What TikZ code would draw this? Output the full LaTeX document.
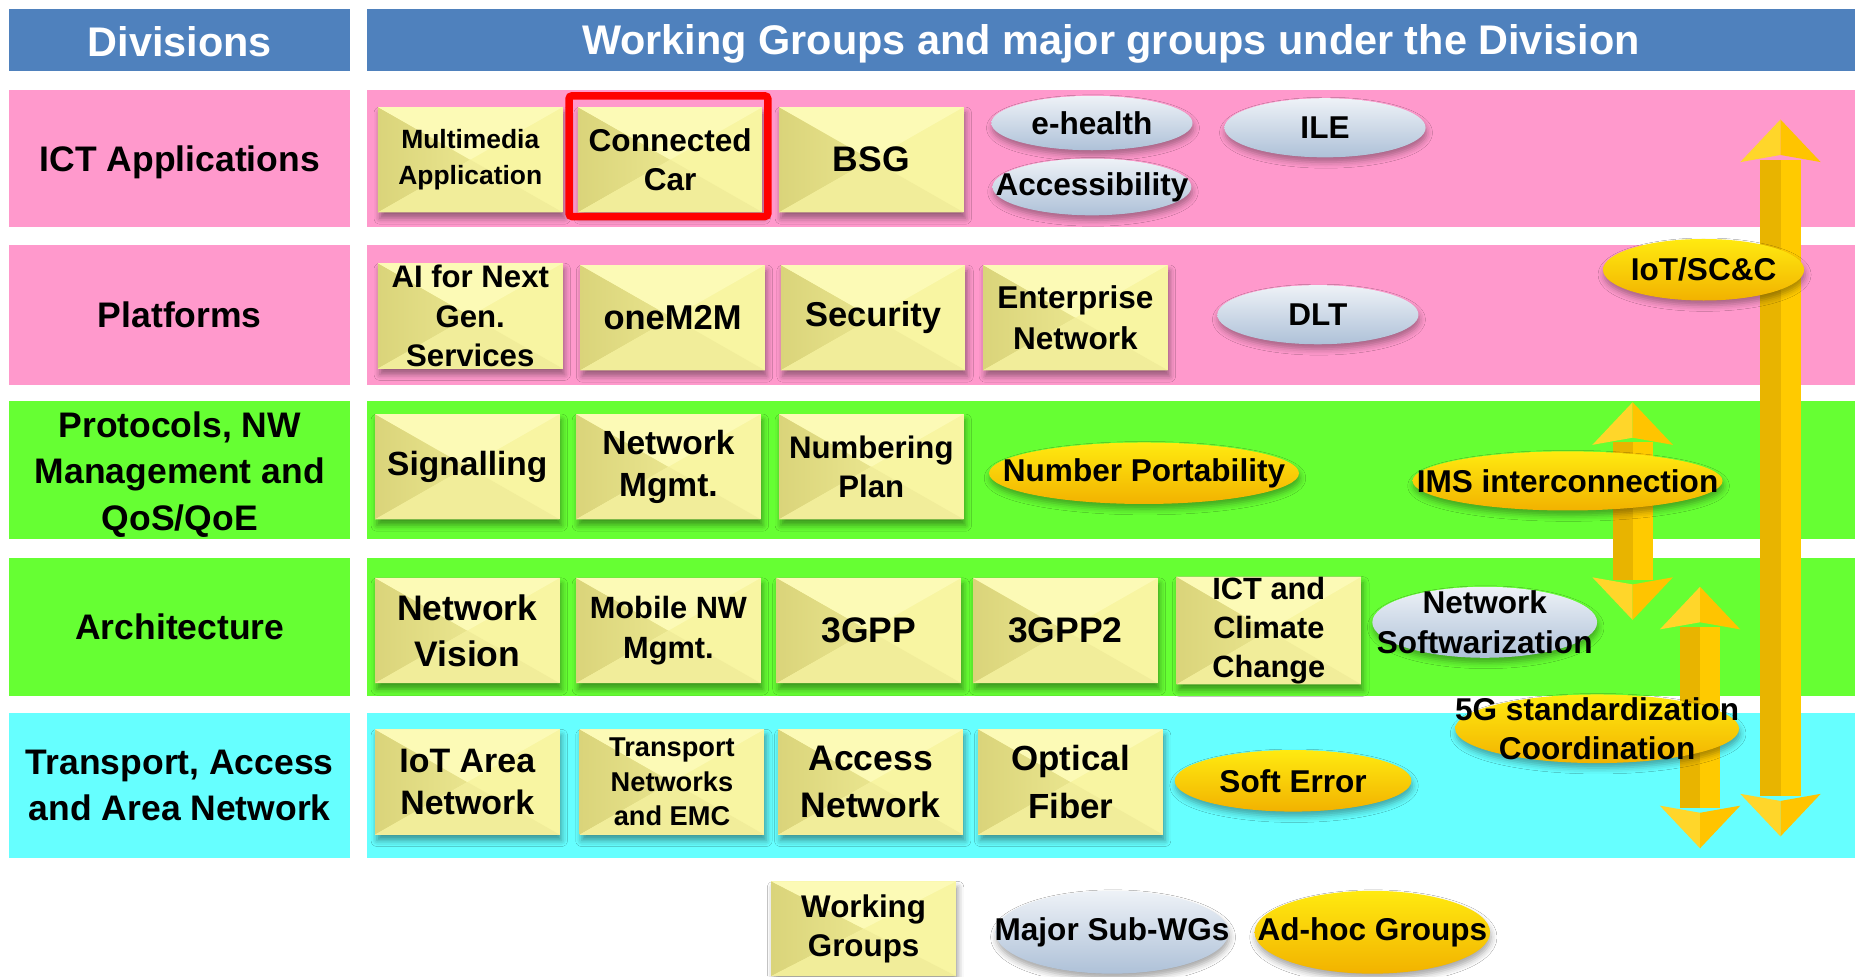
\documentclass[tikz,border=0pt]{standalone}
\usepackage{fontspec}
\setmainfont{Liberation Sans}
\usetikzlibrary{shadows.blur}
\definecolor{hdrblue}{HTML}{4F81BD}
\definecolor{rowpink}{HTML}{FF99CC}
\definecolor{rowgreen}{HTML}{66FF33}
\definecolor{rowcyan}{HTML}{66FFFF}
\definecolor{boxyel}{HTML}{F8F5A2}
\definecolor{boxdark}{HTML}{DAD47A}
\definecolor{boxlight}{HTML}{FCFAB6}
\definecolor{boxmid}{HTML}{F1ED9A}
\definecolor{goldL}{HTML}{E8B400}
\definecolor{goldR}{HTML}{FFCA00}
\definecolor{goldHL}{HTML}{FFD62A}
\definecolor{goldHR}{HTML}{FFC400}
\definecolor{ovtop}{HTML}{EEF2F7}
\definecolor{ovmid}{HTML}{C8D4E3}
\definecolor{ovbot}{HTML}{AEC1D8}
\definecolor{yltop}{HTML}{FFEA10}
\definecolor{ylmid}{HTML}{FFCC00}
\definecolor{ylbot}{HTML}{F2B200}
\newcommand\fsz[2]{\fontsize{#1}{#2}\selectfont\bfseries}
\newcommand\goldarrow[3]{%
  \fill[goldL] ({#1-17},{#2+34}) rectangle (#1,{#3-34});
  \fill[goldR] (#1,{#2+34}) rectangle ({#1+17},{#3-34});
  \fill[goldHL] (#1,#2) -- ({#1-34},{#2+36}) -- (#1,{#2+30}) -- cycle;
  \fill[goldHR] (#1,#2) -- ({#1+34},{#2+36}) -- (#1,{#2+30}) -- cycle;
  \fill[goldHL] (#1,#3) -- ({#1-34},{#3-36}) -- (#1,{#3-30}) -- cycle;
  \fill[goldHR] (#1,#3) -- ({#1+34},{#3-36}) -- (#1,{#3-30}) -- cycle;
}
\newcommand\ovalnode[7]{%
  \coordinate (#1-c) at (#2,#3);
  \shade[#6] (#1-c) ellipse [x radius={#4*0.6pt}, y radius={#5*0.6pt}];
  \node[ovtext] (#1) at (#1-c) {#7};
}
\tikzset{
  hdr/.style={text=white, font=\fsz{21}{25}, inner sep=0pt},
  rowlab/.style={text=black, font=\fsz{18}{23.5}, align=center, inner sep=0pt},
  wg/.style={rectangle, fill=boxyel, minimum width=93.6pt, minimum height=53.4pt,
    inner sep=0pt, align=center, font=\fsz{16}{20},
    blur shadow={shadow xshift=1pt, shadow yshift=-3pt, shadow opacity=40, shadow blur radius=3pt},
    path picture={
      \shade[left color=boxdark, right color=boxyel] (path picture bounding box.north west) -- (path picture bounding box.center) -- (path picture bounding box.south west) -- cycle;
      \fill[boxlight] (path picture bounding box.north west) -- (path picture bounding box.center) -- (path picture bounding box.north east) -- cycle;
      \fill[boxmid] (path picture bounding box.south west) -- (path picture bounding box.center) -- (path picture bounding box.south east) -- cycle;
    }},
  blueov/.style={top color=ovtop, middle color=ovmid, bottom color=ovbot,
    blur shadow={shadow xshift=0.5pt, shadow yshift=-2.5pt, shadow opacity=35, shadow blur radius=3pt}},
  yelov/.style={top color=yltop, middle color=ylmid, bottom color=ylbot,
    blur shadow={shadow xshift=0.5pt, shadow yshift=-2.5pt, shadow opacity=35, shadow blur radius=3pt}},
  ovtext/.style={font=\fsz{16}{20}, align=center, inner sep=0pt, text=black}
}
\begin{document}
\begin{tikzpicture}[x=0.6pt,y=-0.6pt]
\useasboundingbox (0,0) rectangle (1568,825);
\fill[white] (0,0) rectangle (1568,825);
% header
\fill[hdrblue] (8,8) rectangle (296,60);
\fill[hdrblue] (310,8) rectangle (1568,60);
\node[hdr] (hdiv) at (152,35) {Divisions};
\node[hdr] (hwg) at (939,37.5) {Working Groups and major groups under the Division};
% row bands
\fill[rowpink] (8,76) rectangle (296,192);   \fill[rowpink] (310,76) rectangle (1568,192);
\fill[rowpink] (8,207) rectangle (296,325);  \fill[rowpink] (310,207) rectangle (1568,325);
\fill[rowgreen] (8,339) rectangle (296,456); \fill[rowgreen] (310,339) rectangle (1568,456);
\fill[rowgreen] (8,472) rectangle (296,588); \fill[rowgreen] (310,472) rectangle (1568,588);
\fill[rowcyan] (8,603) rectangle (296,725);  \fill[rowcyan] (310,603) rectangle (1568,725);
% row labels
\node[rowlab] (lict) at (152,137) {ICT Applications};
\node[rowlab] (lplat) at (152,266) {Platforms};
\node[rowlab] (lprot) at (152,401) {Protocols, NW\\Management and\\QoS/QoE};
\node[rowlab] (larch) at (152,530) {Architecture};
\node[rowlab] (ltrans) at (152,664) {Transport, Access\\and Area Network};
% arrows
\goldarrow{1505}{101}{707}
\goldarrow{1380}{340}{524}
\goldarrow{1437}{496}{717}
% row 1
\node[wg, font=\fsz{13.4}{18}] (mm) at (397.5,135) {Multimedia\\Application};
\node[wg] (cc) at (566.5,135) {Connected\\Car};
\draw[red, line width=3.8pt, rounded corners=1.5pt] (481,81) rectangle (649,183);
\node[wg, font=\fsz{18}{22}] (bsg) at (736.5,135) {BSG};
\ovalnode{ehealth}{923}{104}{85}{23}{blueov}{e-health}
\ovalnode{access}{923}{158}{84}{24}{blueov}{Accessibility}
\ovalnode{ile}{1120}{108}{85}{25}{blueov}{ILE}
% row 2
\node[wg, font=\fsz{15.8}{20}] (ai) at (397.5,267) {AI for Next\\Gen.\\Services};
\node[wg, font=\fsz{17.5}{21}] (onem2m) at (568.5,268.5) {oneM2M};
\node[wg, font=\fsz{17.5}{21}] (sec) at (738,268.5) {Security};
\node[wg, font=\fsz{16}{20.4}] (ent) at (909,268.5) {Enterprise\\Network};
\ovalnode{dlt}{1114}{266}{85}{25}{blueov}{DLT}
\ovalnode{iot}{1440}{228}{85}{26}{yelov}{IoT/SC\&C}
% row 3
\node[wg, font=\fsz{17}{21}] (sig) at (395,394.5) {Signalling};
\node[wg, font=\fsz{17}{21}] (nmg) at (565,394.5) {Network\\Mgmt.};
\node[wg, font=\fsz{15.8}{20}] (nump) at (736.5,394.5) {Numbering\\Plan};
\ovalnode{nport}{967}{400}{131}{26}{yelov}{Number Portability}
\ovalnode{ims}{1325}{406.5}{131}{25}{yelov}{IMS interconnection}
% row 4
\node[wg, font=\fsz{18}{23.4}] (nv) at (395,533) {Network\\Vision};
\node[wg, font=\fsz{15.6}{20}] (mnw) at (565,533) {Mobile NW\\Mgmt.};
\node[wg, font=\fsz{18}{22}] (g3) at (734.5,533) {3GPP};
\node[wg, font=\fsz{18}{22}] (g32) at (900.5,533) {3GPP2};
\node[wg, font=\fsz{15.6}{20}] (ictc) at (1072.5,533) {ICT and\\Climate\\Change};
\ovalnode{nsw}{1255}{526}{95}{30}{blueov}{Network\\Softwarization}
% row 5
\node[wg, font=\fsz{17.2}{21.6}] (iotan) at (395,661) {IoT Area\\Network};
\node[wg, font=\fsz{13.8}{17.4}] (tn) at (568,661) {Transport\\Networks\\and EMC};
\node[wg, font=\fsz{18}{24}] (an) at (736,661) {Access\\Network};
\node[wg, font=\fsz{17.7}{24}] (of) at (905,661) {Optical\\Fiber};
\ovalnode{serr}{1093}{660}{100}{26}{yelov}{Soft Error}
\ovalnode{fiveg}{1350}{616}{120}{29}{yelov}{5G standardization\\Coordination}
% legend
\node[wg, minimum height=48pt, font=\fsz{15.9}{20}] (lgwg) at (730,785) {Working\\Groups};
\ovalnode{lgsub}{940}{788}{98.5}{35}{blueov}{Major Sub-WGs}
\ovalnode{lgadh}{1160}{788}{99.5}{35}{yelov}{Ad-hoc Groups}
\end{tikzpicture}
\end{document}
